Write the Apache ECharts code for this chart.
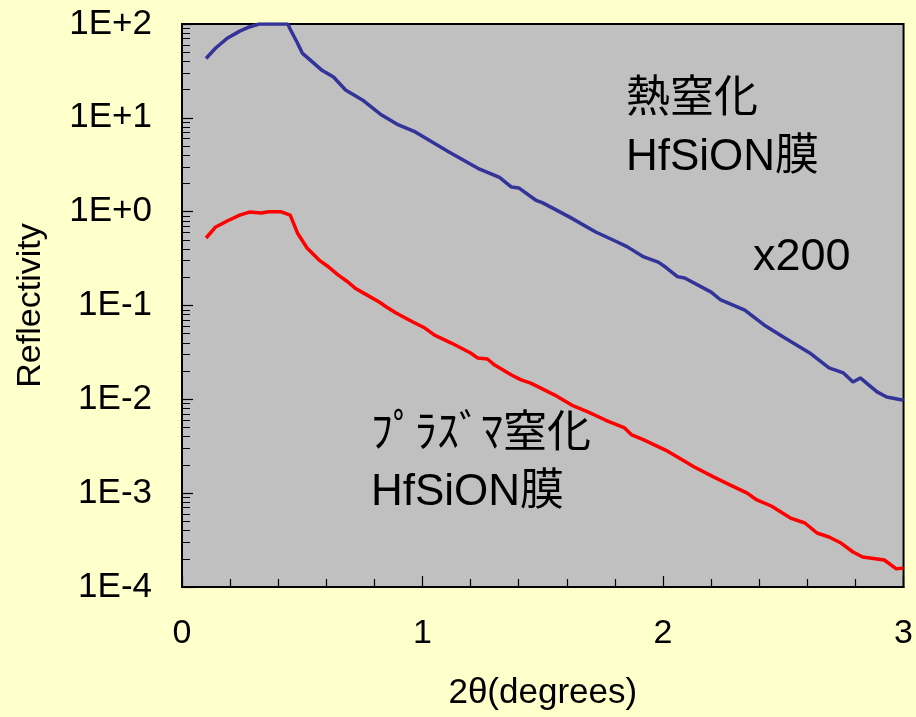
<!DOCTYPE html>
<html>
<head>
<meta charset="utf-8">
<script src="https://cdn.jsdelivr.net/npm/echarts@6/dist/echarts.min.js"></script>
<style>
html,body{margin:0;padding:0;background:#FFFFCC;}
#chart{width:916px;height:717px;}
</style>
</head>
<body>
<div id="chart"></div>
<script>
// ---- data ----
const xThermal = [0.10,0.14,0.19,0.24,0.28,0.32,0.36,0.40,0.44,0.45,0.48,0.50,0.58,0.63,0.68,0.75,0.83,0.90,0.97,1.04,1.11,1.23,1.32,1.37,1.40,1.47,1.50,1.61,1.72,1.81,1.85,1.92,1.98,2.01,2.06,2.09,2.20,2.24,2.34,2.42,2.50,2.61,2.69,2.75,2.79,2.82,2.89,2.93,3.00];
const yThermal = [42.9,55.5,71,84,93,100,100,100,100,88,62.7,49,32.4,27.2,19.8,15.5,10.7,8.4,7.07,5.52,4.32,2.90,2.32,1.83,1.79,1.33,1.24,0.88,0.607,0.475,0.424,0.329,0.29,0.257,0.203,0.196,0.139,0.1145,0.0895,0.062,0.0461,0.0312,0.0216,0.0191,0.0153,0.0169,0.012,0.0106,0.0098];

const xPlasma = [0.10,0.14,0.19,0.24,0.28,0.33,0.36,0.41,0.45,0.48,0.52,0.57,0.61,0.65,0.69,0.72,0.77,0.82,0.85,0.89,0.96,1.01,1.05,1.12,1.20,1.23,1.27,1.30,1.37,1.41,1.45,1.55,1.62,1.69,1.76,1.84,1.87,1.92,2.01,2.06,2.13,2.21,2.28,2.35,2.39,2.45,2.53,2.59,2.64,2.69,2.74,2.79,2.83,2.92,2.97,3.00];
const yPlasma = [0.524,0.687,0.80,0.92,0.99,0.97,1.0,1.0,0.92,0.593,0.41,0.305,0.257,0.211,0.178,0.153,0.129,0.109,0.0963,0.0832,0.0667,0.0575,0.0484,0.0398,0.0312,0.0275,0.0269,0.0232,0.01815,0.0161,0.0149,0.0111,0.00869,0.00732,0.00602,0.00495,0.00417,0.00369,0.00288,0.00243,0.0019,0.00149,0.00122,0.00100,0.000846,0.00073,0.000543,0.000481,0.000376,0.000341,0.000294,0.000236,0.000209,0.000194,0.000156,0.000159];

const yTickValues = [1e-4,1e-3,1e-2,1e-1,1,10,100];
const yTickLabels = ['1E-4','1E-3','1E-2','1E-1','1E+0','1E+1','1E+2'];
const xTickLabels = ['0','1','2','3'];

// minor log ticks 2..9 in each decade
const yMinorTicks = [];
for (let e = -4; e < 2; e++) {
  for (let m = 2; m <= 9; m++) yMinorTicks.push(m * Math.pow(10, e));
}

const thermalData = xThermal.map((x, i) => [x, yThermal[i]]);
const plasmaData = xPlasma.map((x, i) => [x, yPlasma[i]]);

const FONT = '"Liberation Sans", Arial, sans-serif';
const JFONT = '"Liberation Sans", "Noto Sans CJK JP", sans-serif';

const chart = echarts.init(document.getElementById('chart'), null, {renderer: 'canvas'});
chart.setOption({
  backgroundColor: '#FFFFCC',
  animation: false,
  grid: {
    left: 182, right: 9, top: 24, bottom: 130,
    show: true, backgroundColor: '#C0C0C0', borderColor: '#000', borderWidth: 2
  },
  xAxis: {
    type: 'value', min: 0, max: 3, interval: 1,
    name: '2θ(degrees)', nameLocation: 'middle', nameGap: 89,
    nameTextStyle: {fontFamily: FONT, fontSize: 35, color: '#000'},
    axisLine: {show: true, lineStyle: {color: '#000', width: 2}},
    axisTick: {show: true, inside: true, length: 11, lineStyle: {color: '#000', width: 1.2}},
    minorTick: {show: true, splitNumber: 5, length: 8, lineStyle: {color: '#000', width: 1.2}},
    splitLine: {show: false},
    minorSplitLine: {show: false},
    axisLabel: {
      fontFamily: FONT, fontSize: 34, color: '#000', margin: 30,
      formatter: v => xTickLabels[Math.round(v)]
    }
  },
  yAxis: [{
    type: 'log', logBase: 10, min: 1e-4, max: 100,
    name: 'Reflectivity', nameLocation: 'middle', nameGap: 134, nameRotate: 90,
    nameTextStyle: {fontFamily: FONT, fontSize: 34, color: '#000'},
    axisLine: {show: true, lineStyle: {color: '#000', width: 2}},
    axisTick: {show: true, inside: true, length: 11, lineStyle: {color: '#000', width: 1.2}},
    splitLine: {show: false},
    axisLabel: {
      fontFamily: FONT, fontSize: 35, color: '#000', margin: 30,
      formatter: v => {
        const i = yTickValues.findIndex(t => Math.abs(Math.log10(t) - Math.log10(v)) < 1e-6);
        return i >= 0 ? yTickLabels[i] : '';
      }
    }
  }, {
    type: 'log', logBase: 10, min: 1e-4, max: 100, position: 'left',
    axisLine: {show: false},
    axisTick: {show: true, inside: true, length: 8, customValues: yMinorTicks, lineStyle: {color: '#000', width: 1}},
    axisLabel: {show: false},
    splitLine: {show: false}
  }],
  series: [{
    name: 'thermal', type: 'line', data: thermalData, showSymbol: false, symbol: 'none',
    lineStyle: {color: '#333399', width: 3.5}, clip: true
  }, {
    name: 'plasma', type: 'line', data: plasmaData, showSymbol: false, symbol: 'none',
    lineStyle: {color: '#FF0000', width: 3.5}, clip: true
  }],
  graphic: [
    {type: 'text', left: 626, top: 78, style: {text: '熱窒化', font: '44px ' + JFONT, fill: '#000'}},
    {type: 'text', left: 626, top: 136, style: {text: 'HfSiON膜', font: '44px ' + JFONT, fill: '#000'}},
    {type: 'text', left: 753, top: 235, style: {text: 'x200', font: '45px ' + FONT, fill: '#000'}},
    {type: 'text', left: 371, top: 413, style: {text: 'ﾌﾟﾗｽﾞﾏ窒化', font: '44px ' + JFONT, fill: '#000'}},
    {type: 'text', left: 371, top: 471, style: {text: 'HfSiON膜', font: '44px ' + JFONT, fill: '#000'}}
  ]
});
</script>
</body>
</html>
